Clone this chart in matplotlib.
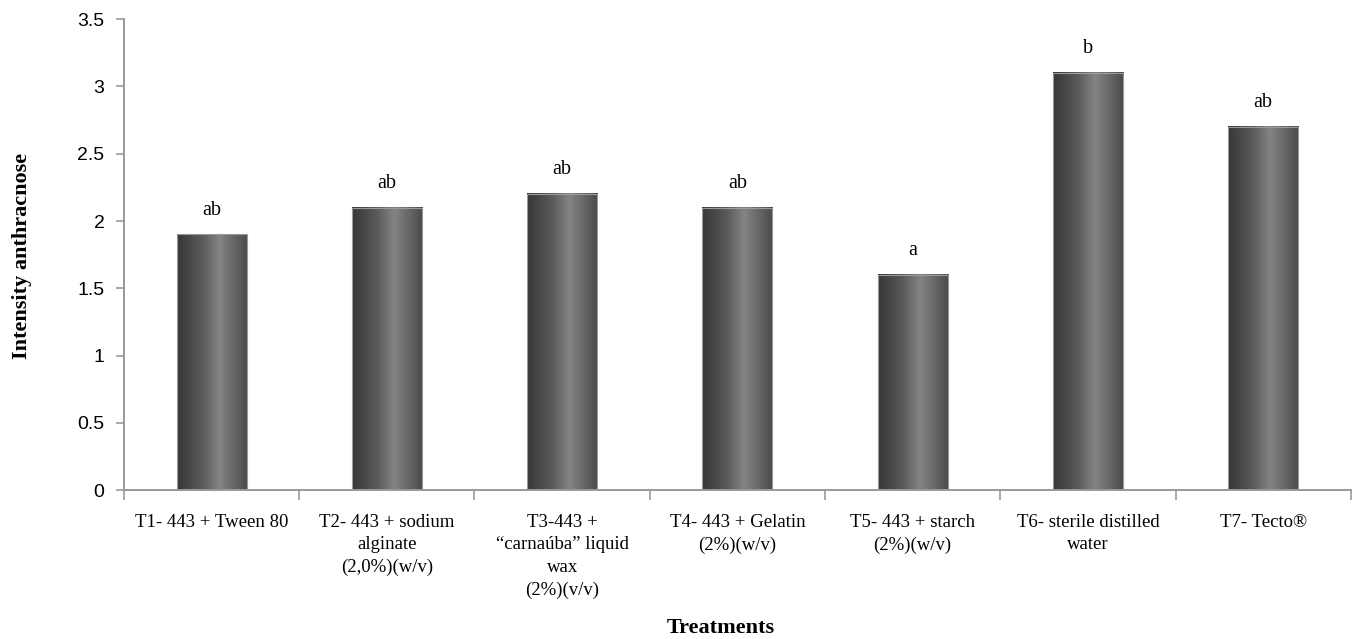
import numpy as np
import matplotlib.pyplot as plt
from matplotlib.colors import LinearSegmentedColormap

# Данные
labels = [
    'T1- 443 + Tween 80',
    'T2- 443 + sodium\nalginate\n(2,0%)(w/v)',
    'T3-443 +\n\u201ccarnaúba\u201d liquid\nwax\n(2%)(v/v)',
    'T4- 443 + Gelatin\n(2%)(w/v)',
    'T5- 443 + starch\n(2%)(w/v)',
    'T6- sterile distilled\nwater',
    'T7- Tecto\u00ae',
]
values = [1.9, 2.1, 2.2, 2.1, 1.6, 3.1, 2.7]
letters = ['ab', 'ab', 'ab', 'ab', 'a', 'b', 'ab']

serif = ['Liberation Serif', 'DejaVu Serif']
sans = ['Liberation Sans', 'DejaVu Sans']

fig = plt.figure(figsize=(13.59, 6.39), dpi=100)
ax = fig.add_axes([0.0912, 0.233, 0.9028, 0.737])

x = np.arange(len(values))
width = 0.4

# Цилиндрический градиент для столбцов
cmap = LinearSegmentedColormap.from_list(
    'cyl', [(0, '#363636'), (0.35, '#5a5a5a'), (0.6, '#848484'), (1, '#4a4a4a')])
grad = np.linspace(0, 1, 256).reshape(1, -1)

bars = ax.bar(x, values, width, color='none', edgecolor='#9a9a9a', linewidth=0.8, zorder=3)
for b, v, t in zip(bars, values, letters):
    x0 = b.get_x()
    ax.imshow(grad, cmap=cmap, aspect='auto', extent=(x0, x0 + width, 0, v),
              zorder=2, interpolation='bicubic')
    ax.text(b.get_x() + width / 2, v + 0.11, t, ha='center', va='bottom',
            fontsize=14.5, family=serif)

ax.set_xlim(-0.5, len(values) - 0.5)
ax.set_ylim(0, 3.5)
ax.set_yticks(np.arange(0, 3.51, 0.5))
ax.set_yticklabels(['0', '0.5', '1', '1.5', '2', '2.5', '3', '3.5'], family=sans, fontsize=14)

# Деления на границах категорий, подписи по центру
ax.set_xticks(np.arange(-0.5, len(values)), minor=False)
ax.set_xticklabels([])
ax.set_xticks(x, minor=True)
ax.set_xticklabels(labels, minor=True, family=serif, fontsize=13.5, va='top', linespacing=1.42)
ax.tick_params(axis='x', which='minor', length=0, pad=17)
ax.tick_params(axis='x', which='major', length=7, color='#999999', width=1.2)
ax.tick_params(axis='y', length=6, color='#999999', width=1.2, pad=8)

for s in ['top', 'right']:
    ax.spines[s].set_visible(False)
for s in ['left', 'bottom']:
    ax.spines[s].set_color('#999999')
    ax.spines[s].set_linewidth(1.4)

fig.text(0.016, 0.60, 'Intensity anthracnose', rotation=90, ha='center', va='center',
         fontsize=16, fontweight='bold', family=serif)
fig.text(0.53, 0.017, 'Treatments', ha='center', va='center',
         fontsize=16, fontweight='bold', family=serif)

fig.savefig('out.png', dpi=100)
